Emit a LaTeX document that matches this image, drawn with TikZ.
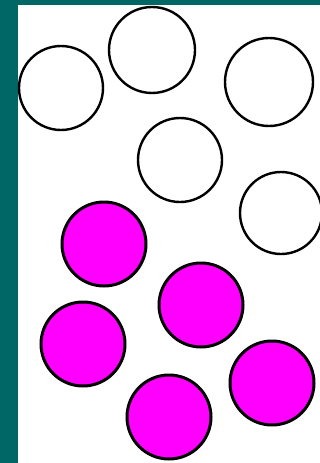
\documentclass[tikz,border=0pt]{standalone}
\usepackage{xcolor}
\usepackage{tikz}
\definecolor{frameteal}{RGB}{0,102,102}
\definecolor{ballpink}{RGB}{255,0,255}
\tikzset{
  ring/.style={circle, draw=black, line width=2.4pt, fill=white, inner sep=0pt, minimum size=84pt},
  ball/.style={ring, fill=ballpink, line width=3pt}
}

\begin{document}
\begin{tikzpicture}[x=1pt, y=-1pt]
\fill[frameteal] (0,0) rectangle (320,463);
\fill[white] (18,5) rectangle (320,463);
\useasboundingbox (0,0) rectangle (320,463);
% empty rings
\node[ring] (ringa) at (61,88) {};
\node[ring, minimum size=86pt] (ringb) at (152,50) {};
\node[ring, minimum size=88pt] (ringc) at (269,82) {};
\node[ring] (ringd) at (180,160) {};
\node[ring, minimum size=82pt] (ringe) at (281,213) {};
% filled balls
\node[ball] (balla) at (104,244) {};
\node[ball] (ballb) at (201,305) {};
\node[ball] (ballc) at (83,344) {};
\node[ball] (balld) at (169,417) {};
\node[ball] (balle) at (272,383) {};
\end{tikzpicture}
\end{document}
